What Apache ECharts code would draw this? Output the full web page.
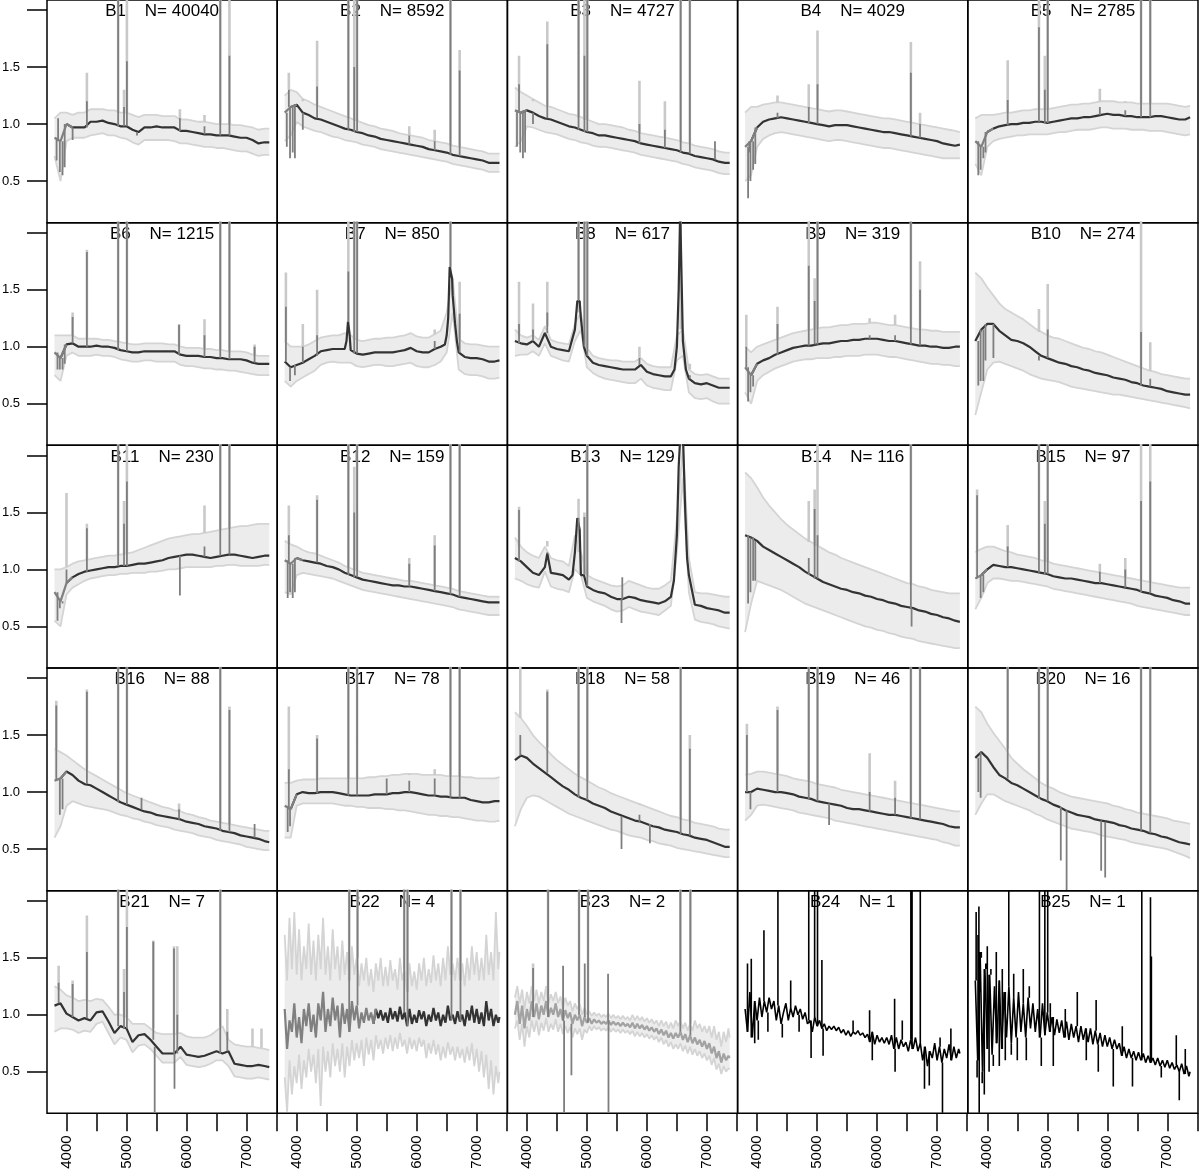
<!DOCTYPE html>
<html><head><meta charset="utf-8">
<script src="https://cdn.jsdelivr.net/npm/echarts@6/dist/echarts.min.js"></script>
<style>html,body{margin:0;padding:0;background:#fff}#c{width:1200px;height:1175px}</style>
</head><body><div id="c"></div>
<script>
// ---------- axes / labels ----------
const X_TICKS = [4000, 4500, 5000, 5500, 6000, 6500, 7000, 7500];
const X_LABELS = [4000, 5000, 6000, 7000];
const Y_TICKS = [0.5, 1.0, 1.5, 2.0];
const Y_LABELS = [0.5, 1.0, 1.5];
const NAMES = ['B1','B2','B3','B4','B5','B6','B7','B8','B9','B10','B11','B12','B13','B14','B15','B16','B17','B18','B19','B20','B21','B22','B23','B24','B25'];
const COUNTS = [40040, 8592, 4727, 4029, 2785, 1215, 850, 617, 319, 274, 230, 159, 129, 116, 97, 88, 78, 58, 46, 16, 7, 4, 2, 1, 1];

// wavelength grids
const WAVE = [3800,3900,4000,4100,4200,4300,4400,4500,4600,4700,
  4800,4900,5000,5100,5200,5300,5400,5500,5600,5700,
  5800,5900,6000,6100,6200,6300,6400,6500,6600,6700,
  6800,6900,7000,7100,7200,7300,7380];
const WAVE_F = [3800,3840,3880,3920,3960,4000,4040,4080,4120,4160,
  4200,4240,4280,4320,4360,4400,4440,4480,4520,4560,
  4600,4640,4680,4720,4760,4800,4840,4880,4920,4960,
  5000,5040,5080,5120,5160,5200,5240,5280,5320,5360,
  5400,5440,5480,5520,5560,5600,5640,5680,5720,5760,
  5800,5840,5880,5920,5960,6000,6040,6080,6120,6160,
  6200,6240,6280,6320,6360,6400,6440,6480,6520,6560,
  6600,6640,6680,6720,6760,6800,6840,6880,6920,6960,
  7000,7040,7080,7120,7160,7200,7240,7280,7320,7360,7380];

// ---------- B1 ----------
const B1_MEAN = [0.88,0.85,1.0,0.97,0.97,0.97,1.02,1.02,1.03,1.01, 1.0,0.98,0.98,0.95,0.93,0.97,0.97,0.98,0.97,0.97, 0.97,0.94,0.94,0.93,0.92,0.91,0.91,0.9,0.9,0.9, 0.89,0.88,0.88,0.86,0.83,0.84,0.84];
const B1_HI = [1.05,1.1,1.1,1.08,1.1,1.1,1.13,1.13,1.13,1.12, 1.12,1.1,1.1,1.08,1.06,1.08,1.08,1.08,1.07,1.07, 1.07,1.04,1.04,1.03,1.02,1.02,1.01,1.0,1.0,1.0, 0.99,0.99,0.98,0.97,0.95,0.96,0.96];
const B1_LO = [0.72,0.5,0.85,0.88,0.88,0.88,0.9,0.91,0.92,0.9, 0.9,0.88,0.87,0.84,0.82,0.86,0.86,0.86,0.86,0.86, 0.85,0.83,0.83,0.82,0.81,0.8,0.8,0.79,0.79,0.78, 0.77,0.76,0.76,0.74,0.72,0.73,0.73];
const B1_LINES = [[3835,0.68,null],[3860,1.05,null],[3889,0.58,null],[3934,0.55,null],[3970,0.62,null],[4102,0.86,null],[4340,1.2,1.45],[4861,2.2,2.2],[4959,1.15,1.3],[5007,1.55,2.2],[5175,0.9,null],[5890,1.05,1.13],[6300,0.98,1.08],[6563,2.2,2.2],[6716,1.6,2.2]];
// ---------- B2 ----------
const B2_MEAN = [1.1,1.15,1.17,1.1,1.08,1.05,1.04,1.02,1.0,0.98, 0.96,0.95,0.93,0.92,0.9,0.89,0.87,0.86,0.85,0.84, 0.83,0.82,0.81,0.8,0.78,0.77,0.76,0.75,0.73,0.72, 0.71,0.7,0.69,0.68,0.66,0.66,0.66];
const B2_HI = [1.25,1.3,1.28,1.22,1.2,1.17,1.15,1.13,1.11,1.09, 1.07,1.05,1.03,1.01,0.99,0.98,0.96,0.95,0.94,0.92, 0.91,0.9,0.89,0.88,0.86,0.85,0.84,0.83,0.81,0.8, 0.79,0.78,0.77,0.76,0.74,0.74,0.74];
const B2_LO = [0.85,0.9,1.02,0.98,0.96,0.94,0.93,0.91,0.89,0.88, 0.86,0.85,0.84,0.82,0.81,0.8,0.78,0.77,0.76,0.75, 0.74,0.73,0.72,0.71,0.7,0.69,0.68,0.67,0.65,0.64, 0.63,0.62,0.61,0.6,0.58,0.58,0.58];
const B2_LINES = [[3835,0.8,null],[3869,1.3,1.45],[3889,0.7,null],[3934,0.75,null],[3970,0.7,null],[4102,0.95,1.2],[4340,1.33,1.73],[4861,2.2,2.2],[4959,1.5,2.2],[5007,2.2,2.2],[5876,0.9,0.98],[6300,0.85,0.95],[6563,2.2,2.2],[6716,1.47,1.65]];
// ---------- B3 ----------
const B3_MEAN = [1.12,1.1,1.12,1.1,1.07,1.05,1.04,1.02,1.0,0.98, 0.97,0.95,0.93,0.92,0.9,0.9,0.89,0.88,0.87,0.86, 0.85,0.83,0.82,0.81,0.8,0.79,0.78,0.77,0.75,0.74, 0.72,0.71,0.7,0.69,0.67,0.66,0.66];
const B3_HI = [1.32,1.28,1.25,1.22,1.19,1.16,1.15,1.13,1.11,1.09, 1.08,1.06,1.04,1.02,1.0,1.0,0.99,0.98,0.97,0.95, 0.94,0.92,0.91,0.9,0.89,0.88,0.87,0.86,0.84,0.83, 0.81,0.8,0.79,0.78,0.76,0.75,0.75];
const B3_LO = [0.8,0.85,0.98,0.97,0.95,0.93,0.92,0.91,0.89,0.87, 0.86,0.84,0.83,0.81,0.8,0.8,0.79,0.78,0.77,0.76, 0.75,0.73,0.72,0.71,0.7,0.69,0.68,0.67,0.65,0.64, 0.62,0.61,0.6,0.59,0.57,0.56,0.56];
const B3_LINES = [[3835,0.8,null],[3869,1.35,1.6],[3889,0.75,null],[3934,0.7,null],[3970,0.75,null],[4102,1.0,1.2],[4340,1.7,1.9],[4861,2.2,2.2],[4959,1.6,2.2],[5007,2.2,2.2],[5876,1.0,1.38],[6300,0.95,1.2],[6563,2.2,2.2],[6716,2.2,2.2],[7135,0.85,null]];
// ---------- B4 ----------
const B4_MEAN = [0.8,0.85,0.97,1.02,1.04,1.05,1.06,1.05,1.04,1.03, 1.02,1.01,1.0,0.99,0.98,0.99,0.99,0.99,0.98,0.97, 0.96,0.95,0.94,0.93,0.93,0.92,0.91,0.9,0.89,0.88, 0.87,0.86,0.85,0.83,0.82,0.81,0.82];
const B4_HI = [1.1,1.15,1.15,1.17,1.18,1.19,1.19,1.18,1.17,1.16, 1.15,1.14,1.13,1.12,1.11,1.12,1.12,1.11,1.1,1.09, 1.08,1.07,1.06,1.05,1.05,1.04,1.03,1.02,1.01,1.0, 0.99,0.98,0.97,0.96,0.95,0.94,0.93];
const B4_LO = [0.5,0.55,0.8,0.87,0.9,0.92,0.93,0.92,0.91,0.9, 0.89,0.88,0.87,0.86,0.85,0.86,0.86,0.85,0.84,0.83, 0.82,0.81,0.8,0.79,0.79,0.78,0.77,0.76,0.75,0.74, 0.73,0.72,0.71,0.7,0.7,0.7,0.7];
const B4_LINES = [[3850,0.35,null],[3870,0.75,null],[3889,0.5,null],[3934,0.6,null],[3970,0.65,null],[4340,1.1,1.25],[4861,1.15,1.35],[5007,1.35,1.82],[6563,1.45,1.72],[6716,1.0,1.1]];
// ---------- B5 ----------
const B5_MEAN = [0.85,0.8,0.93,0.96,0.98,0.99,1.0,1.0,1.01,1.01, 1.02,1.02,1.01,1.02,1.03,1.04,1.05,1.05,1.06,1.06, 1.07,1.08,1.09,1.08,1.08,1.07,1.07,1.06,1.06,1.06, 1.07,1.07,1.06,1.05,1.04,1.04,1.06];
const B5_HI = [1.05,1.08,1.08,1.08,1.09,1.1,1.1,1.11,1.12,1.12, 1.13,1.13,1.13,1.14,1.15,1.16,1.17,1.17,1.18,1.18, 1.19,1.2,1.2,1.2,1.19,1.19,1.19,1.18,1.18,1.18, 1.18,1.18,1.18,1.17,1.16,1.15,1.16];
const B5_LO = [0.65,0.55,0.8,0.85,0.87,0.88,0.89,0.9,0.9,0.91, 0.91,0.91,0.91,0.92,0.93,0.93,0.94,0.95,0.95,0.95, 0.96,0.97,0.97,0.96,0.96,0.96,0.95,0.95,0.95,0.94, 0.94,0.94,0.93,0.92,0.91,0.9,0.91];
const B5_LINES = [[3850,0.55,null],[3889,0.6,null],[3934,0.7,null],[3970,0.75,null],[4340,1.21,1.56],[4861,1.85,2.2],[4959,1.3,1.6],[5007,2.2,2.2],[5876,1.15,1.31],[6300,1.12,1.2],[6563,2.2,2.2],[6716,2.2,2.2]];
// ---------- B6 ----------
const B6_MEAN = [0.95,0.9,1.02,1.03,1.0,1.0,1.0,1.01,1.0,1.0, 0.99,0.97,0.96,0.95,0.95,0.96,0.96,0.96,0.96,0.96, 0.96,0.93,0.92,0.92,0.92,0.91,0.91,0.9,0.9,0.89, 0.89,0.89,0.88,0.86,0.85,0.85,0.85];
const B6_HI = [1.1,1.1,1.1,1.1,1.07,1.07,1.07,1.07,1.06,1.06, 1.05,1.04,1.03,1.02,1.02,1.03,1.03,1.03,1.03,1.02, 1.02,1.0,0.99,0.99,0.99,0.98,0.98,0.97,0.97,0.96, 0.96,0.96,0.95,0.93,0.92,0.92,0.92];
const B6_LO = [0.75,0.7,0.92,0.95,0.92,0.92,0.92,0.93,0.92,0.92, 0.91,0.89,0.88,0.87,0.87,0.88,0.88,0.87,0.87,0.87, 0.87,0.84,0.83,0.83,0.82,0.81,0.81,0.8,0.8,0.79, 0.79,0.78,0.77,0.76,0.75,0.75,0.75];
const B6_LINES = [[3850,0.8,null],[3889,0.8,null],[3934,0.8,null],[3970,0.85,null],[4102,1.26,1.3],[4340,1.83,1.85],[4861,2.2,2.2],[5007,2.2,2.2],[5876,1.19,1.2],[6300,1.1,1.24],[6563,2.2,2.2],[6716,2.2,2.2],[7135,1.0,1.02]];
// ---------- B7 ----------
const B7_MEAN = [0.87,0.82,0.84,0.86,0.89,0.92,0.96,0.97,0.98,0.98, 0.98,0.97,0.94,0.93,0.94,0.95,0.95,0.95,0.95,0.96, 0.97,0.99,0.96,0.95,0.95,0.98,1.0,1.1,1.45,0.95, 0.91,0.9,0.9,0.89,0.87,0.87,0.88];
const B7_EXT = [[4830,1.05],[4855,1.22],[4880,1.12],[6470,1.02],[6525,1.25],[6550,1.7],[6590,1.6],[6640,1.2],[6670,1.05]];
const B7_HI = [1.05,1.0,1.0,1.0,1.02,1.05,1.08,1.09,1.1,1.1, 1.12,1.1,1.06,1.05,1.06,1.07,1.07,1.08,1.08,1.09, 1.1,1.12,1.09,1.08,1.08,1.11,1.14,1.3,1.6,1.07, 1.03,1.02,1.02,1.01,1.0,1.0,1.0];
const B7_LO = [0.7,0.65,0.7,0.73,0.76,0.79,0.84,0.86,0.87,0.86, 0.86,0.86,0.83,0.82,0.83,0.84,0.84,0.83,0.83,0.84, 0.85,0.86,0.83,0.82,0.82,0.84,0.87,0.95,1.3,0.8, 0.76,0.75,0.75,0.74,0.72,0.72,0.73];
const B7_LINES = [[3820,1.35,1.65],[3889,0.7,null],[3970,0.75,null],[4102,1.0,1.2],[4340,1.1,1.5],[4861,1.66,2.2],[4959,2.2,2.2],[5007,2.2,2.2],[6300,1.05,1.15],[6563,2.2,2.2],[6716,1.29,1.57]];
// ---------- B8 ----------
const B8_MEAN = [1.05,1.03,1.02,1.05,1.0,1.12,1.0,0.98,0.97,0.96, 1.15,1.25,0.92,0.86,0.84,0.83,0.82,0.81,0.8,0.8, 0.8,0.84,0.78,0.76,0.75,0.74,0.74,1.0,1.05,0.72, 0.68,0.67,0.68,0.66,0.64,0.64,0.64];
const B8_EXT = [[4840,1.4],[4880,1.4],[4950,1.0],[6460,0.8],[6530,1.5],[6555,2.2],[6575,2.2],[6620,0.95],[6650,0.8]];
const B8_HI = [1.15,1.1,1.08,1.1,1.06,1.18,1.06,1.04,1.03,1.02, 1.2,1.3,0.99,0.92,0.9,0.89,0.88,0.88,0.87,0.87, 0.87,0.9,0.85,0.83,0.82,0.82,0.82,1.1,1.15,0.8, 0.76,0.75,0.76,0.74,0.72,0.72,0.72];
const B8_LO = [0.92,0.93,0.93,0.96,0.92,1.03,0.92,0.9,0.88,0.87, 1.05,1.15,0.82,0.77,0.74,0.72,0.71,0.7,0.69,0.68, 0.68,0.72,0.66,0.64,0.63,0.62,0.62,0.88,0.92,0.6, 0.55,0.54,0.55,0.52,0.5,0.5,0.5];
const B8_LINES = [[3869,1.2,1.57],[4102,1.15,1.38],[4340,1.3,1.57],[4861,2.2,2.2],[4959,2.2,2.2],[5007,2.2,2.2],[5876,0.9,1.0],[6563,2.2,2.2],[6716,0.75,0.85]];
// ---------- B9 ----------
const B9_MEAN = [0.82,0.75,0.85,0.88,0.9,0.93,0.95,0.97,0.99,1.0, 1.01,1.01,1.02,1.03,1.03,1.04,1.05,1.05,1.06,1.06, 1.07,1.07,1.07,1.06,1.05,1.05,1.04,1.03,1.02,1.01, 1.01,1.0,1.0,0.99,0.99,1.0,1.0];
const B9_HI = [1.0,0.95,1.0,1.02,1.04,1.06,1.08,1.1,1.12,1.13, 1.14,1.15,1.16,1.17,1.17,1.18,1.19,1.19,1.2,1.2, 1.2,1.21,1.21,1.2,1.19,1.19,1.18,1.17,1.16,1.15, 1.15,1.14,1.14,1.13,1.13,1.13,1.13];
const B9_LO = [0.6,0.5,0.7,0.75,0.78,0.81,0.83,0.85,0.87,0.88, 0.89,0.89,0.9,0.9,0.9,0.91,0.91,0.92,0.92,0.92, 0.93,0.93,0.93,0.92,0.91,0.91,0.9,0.89,0.88,0.87, 0.86,0.85,0.85,0.84,0.84,0.83,0.83];
const B9_LINES = [[3820,1.0,1.28],[3850,0.52,null],[3889,0.6,null],[3934,0.65,null],[4340,1.2,1.35],[4861,1.71,2.2],[4959,1.4,1.6],[5007,2.2,2.2],[5876,1.1,1.25],[6300,1.1,1.28],[6563,2.2,2.2],[6716,1.5,1.75]];
// ---------- B10 ----------
const B10_MEAN = [1.05,1.15,1.2,1.2,1.14,1.1,1.06,1.05,1.03,1.0, 0.96,0.92,0.9,0.88,0.86,0.85,0.83,0.82,0.8,0.79, 0.77,0.76,0.75,0.73,0.72,0.71,0.69,0.68,0.66,0.65, 0.64,0.63,0.61,0.6,0.59,0.58,0.58];
const B10_HI = [1.65,1.6,1.52,1.45,1.38,1.33,1.3,1.27,1.24,1.2, 1.16,1.13,1.1,1.08,1.07,1.05,1.03,1.01,0.99,0.98, 0.96,0.95,0.93,0.91,0.89,0.87,0.85,0.83,0.81,0.79, 0.78,0.76,0.75,0.74,0.73,0.72,0.72];
const B10_LO = [0.4,0.6,0.8,0.86,0.87,0.85,0.83,0.81,0.79,0.76, 0.74,0.72,0.71,0.7,0.69,0.67,0.65,0.64,0.63,0.62, 0.61,0.6,0.59,0.58,0.58,0.57,0.56,0.55,0.54,0.53, 0.52,0.51,0.5,0.49,0.48,0.47,0.46];
const B10_LINES = [[3850,0.66,null],[3889,0.7,null],[3934,0.7,null],[3970,0.88,null],[4102,0.9,null],[4861,0.88,1.33],[5007,1.15,1.55],[6563,1.13,2.2],[6716,0.72,1.04]];
// ---------- B11 ----------
const B11_MEAN = [0.8,0.72,0.88,0.93,0.96,0.98,0.99,1.0,1.01,1.02, 1.02,1.03,1.03,1.04,1.05,1.05,1.06,1.07,1.08,1.1, 1.11,1.12,1.13,1.13,1.12,1.11,1.1,1.11,1.12,1.13, 1.13,1.12,1.11,1.1,1.11,1.12,1.12];
const B11_HI = [1.0,1.0,1.02,1.05,1.07,1.08,1.09,1.1,1.11,1.12, 1.12,1.13,1.14,1.15,1.17,1.19,1.21,1.23,1.25,1.27, 1.28,1.29,1.3,1.31,1.31,1.32,1.33,1.34,1.35,1.36, 1.37,1.38,1.38,1.39,1.4,1.4,1.4];
const B11_LO = [0.55,0.5,0.78,0.84,0.87,0.9,0.92,0.93,0.94,0.95, 0.95,0.96,0.96,0.97,0.97,0.97,0.98,0.98,0.99,1.0, 1.0,1.01,1.02,1.02,1.02,1.02,1.02,1.03,1.03,1.04, 1.04,1.03,1.03,1.03,1.03,1.04,1.04];
const B11_LINES = [[3850,0.55,null],[3889,0.66,null],[3934,0.7,null],[4000,1.0,1.67],[4340,1.36,1.4],[4861,2.2,2.2],[4959,1.4,1.6],[5007,1.77,2.2],[5890,0.77,null],[6300,1.2,1.56],[6563,2.2,2.2],[6716,2.2,2.2]];
// ---------- B12 ----------
const B12_MEAN = [1.08,1.05,1.1,1.08,1.07,1.06,1.05,1.03,1.02,1.0, 0.97,0.95,0.93,0.91,0.9,0.89,0.88,0.87,0.86,0.86, 0.85,0.85,0.84,0.83,0.82,0.81,0.8,0.79,0.78,0.76, 0.75,0.74,0.73,0.72,0.71,0.71,0.71];
const B12_HI = [1.25,1.22,1.2,1.17,1.15,1.14,1.12,1.1,1.08,1.06, 1.03,1.01,0.99,0.97,0.96,0.95,0.94,0.93,0.92,0.91, 0.9,0.9,0.89,0.88,0.87,0.86,0.85,0.84,0.83,0.81, 0.8,0.79,0.78,0.77,0.76,0.76,0.76];
const B12_LO = [0.8,0.78,0.95,0.97,0.96,0.95,0.94,0.93,0.92,0.9, 0.88,0.86,0.84,0.82,0.81,0.8,0.79,0.78,0.77,0.76, 0.75,0.74,0.73,0.72,0.71,0.7,0.69,0.68,0.67,0.65, 0.64,0.63,0.62,0.61,0.6,0.6,0.6];
const B12_LINES = [[3850,0.75,null],[3869,1.3,1.56],[3889,0.8,null],[3934,0.75,null],[3970,0.8,null],[4340,1.61,1.65],[4861,2.2,2.2],[4959,1.5,1.9],[5007,2.2,2.2],[5876,1.05,1.1],[6300,1.21,1.3],[6563,2.2,2.2],[6716,2.2,2.2]];
// ---------- B13 ----------
const B13_MEAN = [1.1,1.07,1.02,0.97,0.95,1.02,0.97,0.96,0.95,0.91, 1.15,0.95,0.85,0.82,0.8,0.79,0.76,0.74,0.74,0.76, 0.75,0.73,0.72,0.71,0.7,0.72,0.76,1.3,2.2,0.95, 0.69,0.68,0.66,0.65,0.64,0.62,0.62];
const B13_EXT = [[4340,1.14],[4760,0.95],[4840,1.45],[4880,1.35],[4950,0.95],[6450,0.9],[6530,1.9],[6560,2.2],[6640,1.5],[6670,1.1]];
const B13_HI = [1.28,1.2,1.15,1.12,1.1,1.2,1.1,1.08,1.07,1.03, 1.3,1.15,0.95,0.92,0.9,0.88,0.86,0.85,0.86,0.9, 0.88,0.86,0.84,0.83,0.83,0.86,0.9,1.45,2.08,1.1, 0.8,0.79,0.79,0.78,0.77,0.76,0.76];
const B13_LO = [0.92,0.9,0.87,0.85,0.84,0.98,0.85,0.83,0.82,0.8, 1.0,0.95,0.75,0.72,0.7,0.68,0.65,0.63,0.64,0.67, 0.65,0.63,0.62,0.61,0.6,0.64,0.68,1.15,1.8,0.8, 0.56,0.54,0.53,0.52,0.5,0.49,0.48];
const B13_LINES = [[3869,1.52,1.55],[4340,1.15,1.25],[4861,1.45,1.62],[4959,1.46,1.5],[5007,2.2,2.2],[5577,0.53,null],[5590,0.93,null],[6563,2.2,2.2]];
// ---------- B14 ----------
const B14_MEAN = [1.3,1.28,1.25,1.2,1.17,1.14,1.11,1.08,1.05,1.02, 0.98,0.95,0.92,0.89,0.87,0.85,0.83,0.82,0.8,0.79, 0.77,0.76,0.74,0.73,0.71,0.7,0.68,0.67,0.66,0.64, 0.63,0.61,0.6,0.58,0.57,0.55,0.54];
const B14_HI = [1.85,1.8,1.72,1.63,1.56,1.5,1.44,1.39,1.35,1.31, 1.27,1.24,1.21,1.18,1.15,1.13,1.1,1.08,1.06,1.04, 1.02,1.0,0.98,0.96,0.94,0.92,0.9,0.88,0.87,0.85, 0.84,0.82,0.81,0.8,0.79,0.79,0.79];
const B14_LO = [0.45,0.7,0.9,0.88,0.86,0.84,0.82,0.79,0.76,0.73, 0.7,0.68,0.66,0.64,0.62,0.6,0.58,0.56,0.54,0.52, 0.5,0.49,0.47,0.46,0.44,0.43,0.41,0.4,0.39,0.37, 0.36,0.35,0.34,0.33,0.32,0.31,0.31];
const B14_LINES = [[3850,0.7,null],[3889,0.8,null],[3934,0.9,null],[3970,0.9,null],[4861,1.1,1.6],[4959,1.53,1.7],[5007,1.3,2.2],[6563,2.2,2.2],[6575,0.5,null]];
// ---------- B15 ----------
const B15_MEAN = [0.92,0.95,1.0,1.04,1.03,1.02,1.02,1.01,1.0,0.99, 0.98,0.97,0.96,0.94,0.93,0.92,0.92,0.91,0.9,0.89, 0.88,0.88,0.87,0.86,0.85,0.84,0.83,0.82,0.8,0.79, 0.77,0.76,0.75,0.73,0.72,0.7,0.7];
const B15_HI = [1.15,1.18,1.2,1.2,1.18,1.16,1.15,1.13,1.12,1.11, 1.1,1.08,1.07,1.05,1.04,1.03,1.02,1.01,1.0,0.99, 0.98,0.97,0.96,0.95,0.94,0.93,0.92,0.91,0.9,0.89, 0.88,0.87,0.86,0.85,0.84,0.84,0.84];
const B15_LO = [0.65,0.75,0.88,0.92,0.92,0.91,0.9,0.9,0.89,0.88, 0.87,0.86,0.85,0.83,0.82,0.81,0.8,0.79,0.78,0.77, 0.76,0.75,0.74,0.73,0.72,0.71,0.7,0.68,0.67,0.66, 0.65,0.64,0.63,0.62,0.61,0.6,0.6];
const B15_LINES = [[3830,1.65,1.7],[3889,0.75,null],[3934,0.8,null],[4340,1.2,1.39],[4861,2.2,2.2],[4959,1.4,1.6],[5007,2.2,2.2],[5876,0.98,1.05],[6300,1.0,1.1],[6563,1.6,2.2],[6716,1.77,2.2]];
// ---------- B16 ----------
const B16_MEAN = [1.1,1.12,1.18,1.15,1.1,1.07,1.06,1.03,1.0,0.97, 0.94,0.91,0.89,0.87,0.85,0.83,0.82,0.8,0.79,0.78, 0.77,0.76,0.74,0.73,0.72,0.7,0.69,0.68,0.66,0.65, 0.64,0.62,0.61,0.6,0.59,0.57,0.56];
const B16_HI = [1.38,1.35,1.32,1.28,1.24,1.2,1.17,1.14,1.11,1.08, 1.05,1.02,0.99,0.97,0.95,0.93,0.91,0.89,0.87,0.86, 0.84,0.83,0.81,0.8,0.78,0.77,0.75,0.74,0.73,0.72, 0.71,0.7,0.69,0.68,0.67,0.66,0.66];
const B16_LO = [0.6,0.7,0.88,0.92,0.9,0.88,0.87,0.86,0.85,0.84, 0.82,0.8,0.79,0.77,0.76,0.74,0.73,0.71,0.7,0.69, 0.67,0.66,0.65,0.64,0.62,0.61,0.6,0.58,0.57,0.56, 0.55,0.54,0.52,0.51,0.5,0.49,0.49];
const B16_LINES = [[3830,1.76,1.8],[3889,0.8,null],[3934,0.85,null],[4340,1.88,1.9],[4861,2.2,2.2],[5007,2.2,2.2],[5250,0.95,null],[5876,0.85,0.9],[6563,2.2,2.2],[6716,1.72,1.75],[7135,0.72,null]];
// ---------- B17 ----------
const B17_MEAN = [0.88,0.85,0.98,1.0,0.99,0.99,1.0,1.0,1.0,0.99, 0.98,0.97,0.97,0.97,0.97,0.98,0.98,0.98,0.99,0.99, 1.0,1.0,0.99,0.98,0.97,0.97,0.96,0.96,0.95,0.95, 0.95,0.93,0.92,0.91,0.91,0.92,0.92];
const B17_HI = [1.08,1.08,1.1,1.11,1.11,1.11,1.12,1.12,1.12,1.12, 1.12,1.12,1.12,1.12,1.13,1.13,1.14,1.14,1.15,1.15, 1.16,1.16,1.16,1.15,1.15,1.15,1.15,1.14,1.14,1.14, 1.13,1.13,1.12,1.12,1.12,1.12,1.13];
const B17_LO = [0.6,0.6,0.88,0.9,0.9,0.9,0.9,0.9,0.9,0.89, 0.88,0.88,0.87,0.87,0.86,0.86,0.86,0.85,0.85,0.84, 0.84,0.83,0.82,0.81,0.8,0.8,0.79,0.79,0.78,0.78, 0.77,0.76,0.75,0.75,0.74,0.74,0.75];
const B17_LINES = [[3850,0.65,null],[3869,1.2,1.75],[3889,0.7,null],[4340,1.47,1.5],[4861,2.2,2.2],[5007,2.2,2.2],[5500,1.12,null],[5876,1.1,1.15],[6300,1.12,1.2],[6563,2.2,2.2],[6716,2.2,2.2]];
// ---------- B18 ----------
const B18_MEAN = [1.28,1.32,1.3,1.25,1.21,1.17,1.13,1.09,1.05,1.02, 0.98,0.95,0.93,0.9,0.88,0.86,0.83,0.81,0.79,0.77, 0.75,0.74,0.72,0.7,0.69,0.67,0.66,0.65,0.63,0.62, 0.6,0.59,0.58,0.56,0.54,0.52,0.52];
const B18_HI = [1.7,1.65,1.58,1.5,1.44,1.39,1.33,1.28,1.24,1.2, 1.16,1.13,1.1,1.07,1.04,1.02,0.99,0.97,0.95,0.93, 0.91,0.89,0.87,0.85,0.83,0.81,0.79,0.78,0.76,0.75, 0.73,0.72,0.71,0.7,0.68,0.67,0.67];
const B18_LO = [0.7,0.85,0.95,0.97,0.96,0.93,0.9,0.87,0.84,0.81, 0.79,0.77,0.75,0.73,0.71,0.69,0.67,0.66,0.64,0.62, 0.61,0.6,0.58,0.57,0.55,0.54,0.53,0.51,0.5,0.49, 0.48,0.47,0.46,0.45,0.44,0.43,0.43];
const B18_LINES = [[3890,1.5,2.2],[4340,1.88,1.9],[4861,2.2,2.2],[5007,2.2,2.2],[5577,0.5,null],[5876,0.8,0.9],[6050,0.55,null],[6563,2.2,2.2],[6716,1.38,1.5]];
// ---------- B19 ----------
const B19_MEAN = [1.0,1.0,1.03,1.02,1.01,1.0,1.0,0.99,0.98,0.96, 0.95,0.94,0.92,0.91,0.9,0.89,0.88,0.86,0.85,0.85, 0.84,0.83,0.82,0.81,0.8,0.8,0.79,0.78,0.77,0.76, 0.75,0.74,0.73,0.72,0.7,0.69,0.69];
const B19_HI = [1.15,1.16,1.18,1.18,1.17,1.16,1.15,1.14,1.12,1.11, 1.1,1.09,1.07,1.06,1.05,1.04,1.02,1.01,1.0,0.99, 0.98,0.97,0.96,0.95,0.94,0.93,0.92,0.91,0.9,0.89, 0.88,0.87,0.86,0.85,0.84,0.83,0.83];
const B19_LO = [0.75,0.8,0.88,0.89,0.88,0.87,0.86,0.85,0.84,0.82, 0.81,0.8,0.79,0.78,0.77,0.75,0.74,0.73,0.72,0.71, 0.7,0.69,0.68,0.67,0.66,0.65,0.64,0.63,0.62,0.61, 0.6,0.59,0.58,0.56,0.55,0.53,0.53];
const B19_LINES = [[3830,1.5,1.6],[3889,0.85,null],[4340,1.72,1.75],[4861,2.2,2.2],[5007,2.2,2.2],[5200,0.71,null],[5876,1.0,1.34],[6300,0.95,1.1],[6563,2.2,2.2],[6716,2.2,2.2]];
// ---------- B20 ----------
const B20_MEAN = [1.3,1.35,1.3,1.22,1.15,1.12,1.08,1.06,1.03,1.0, 0.97,0.94,0.92,0.89,0.87,0.84,0.82,0.8,0.79,0.78, 0.76,0.75,0.74,0.73,0.71,0.7,0.68,0.67,0.66,0.64, 0.63,0.61,0.6,0.58,0.56,0.55,0.54];
const B20_HI = [1.75,1.7,1.6,1.52,1.45,1.38,1.3,1.25,1.2,1.16, 1.12,1.08,1.05,1.03,1.0,0.98,0.96,0.95,0.94,0.93, 0.92,0.91,0.9,0.88,0.87,0.85,0.84,0.82,0.81,0.8, 0.79,0.78,0.77,0.75,0.74,0.73,0.72];
const B20_LO = [0.8,0.9,0.98,0.98,0.95,0.92,0.9,0.88,0.86,0.84, 0.81,0.79,0.76,0.74,0.72,0.7,0.68,0.67,0.66,0.65, 0.64,0.62,0.61,0.6,0.59,0.58,0.56,0.55,0.54,0.53, 0.52,0.51,0.5,0.48,0.46,0.44,0.42];
const B20_LINES = [[3850,1.0,null],[3889,0.95,null],[4340,2.2,2.2],[4861,2.2,2.2],[5007,2.2,2.2],[5225,0.4,null],[5322,0.14,null],[5898,0.31,null],[5965,0.25,null],[6563,2.2,2.2],[6716,2.2,2.2]];
// ---------- B21 ----------
const B21_MEAN = [1.08,1.1,1.01,0.98,0.95,0.97,0.95,1.02,1.03,0.94, 0.84,0.9,0.88,0.76,0.82,0.83,0.78,0.72,0.66,0.66, 0.66,0.72,0.65,0.64,0.63,0.64,0.66,0.68,0.66,0.68, 0.57,0.56,0.55,0.55,0.56,0.55,0.54];
const B21_HI = [1.25,1.22,1.17,1.15,1.12,1.13,1.12,1.14,1.13,1.07, 1.0,1.0,0.98,0.92,0.92,0.92,0.88,0.84,0.83,0.83, 0.83,0.84,0.81,0.8,0.8,0.8,0.82,0.86,0.9,0.78, 0.74,0.73,0.72,0.72,0.71,0.7,0.69];
const B21_LO = [0.85,0.88,0.88,0.87,0.84,0.86,0.85,0.92,0.94,0.84, 0.74,0.8,0.78,0.67,0.73,0.74,0.7,0.64,0.58,0.58, 0.58,0.63,0.56,0.55,0.54,0.55,0.57,0.6,0.6,0.55, 0.46,0.45,0.44,0.44,0.45,0.44,0.43];
const B21_LINES = [[3869,1.28,1.43],[4102,1.27,1.3],[4340,1.55,1.87],[4861,2.2,2.2],[4959,1.2,1.4],[5007,1.77,2.2],[5447,1.64,1.65],[5470,0.14,null],[5792,1.58,1.6],[5800,0.35,null],[5847,1.0,1.6],[6563,2.2,2.2],[6680,0.85,1.05],[7100,null,0.88],[7250,null,0.88]];
// ---------- B22 (40 A grid) ----------
const B22_MEAN = [1.05,0.7,0.95,0.85,1.1,0.8,0.98,0.75,1.05,0.9, 1.1,0.85,1.0,0.8,1.1,0.95,1.2,0.85,1.05,0.9, 1.15,0.95,1.08,0.8,1.1,0.92,1.05,0.85,1.12,0.95, 1.08,0.88,1.02,0.93,1.06,0.95,1.02,0.92,1.05,0.97, 1.04,0.95,1.02,0.93,1.06,0.96,1.03,0.94,1.07,0.96, 1.02,0.9,1.05,0.92,1.0,0.93,1.04,0.96,1.03,0.9, 1.0,0.94,1.06,0.95,1.02,0.9,1.0,0.93,1.08,0.95, 1.0,0.92,1.03,0.94,1.0,0.9,1.04,0.95,1.08,0.93, 1.05,0.92,1.02,0.9,1.12,0.95,1.05,0.9,1.0,0.93, 0.98];
const B22_HI = [1.7,1.3,1.85,1.4,1.9,1.35,1.75,1.3,1.6,1.4, 1.8,1.35,1.65,1.3,1.7,1.4,1.85,1.35,1.6,1.3, 1.75,1.4,1.6,1.3,1.65,1.35,1.55,1.3,1.6,1.35, 1.5,1.25,1.45,1.3,1.5,1.25,1.4,1.2,1.45,1.3, 1.5,1.25,1.42,1.25,1.48,1.3,1.4,1.22,1.5,1.3, 1.4,1.2,1.45,1.25,1.38,1.22,1.45,1.3,1.5,1.25, 1.4,1.28,1.52,1.3,1.45,1.25,1.5,1.3,1.6,1.35, 1.45,1.3,1.5,1.3,1.45,1.25,1.5,1.3,1.6,1.35, 1.55,1.3,1.5,1.3,1.7,1.35,1.55,1.3,1.9,1.4, 1.55];
const B22_LO = [0.45,0.15,0.6,0.3,0.55,0.4,0.65,0.35,0.6,0.45, 0.7,0.5,0.65,0.4,0.7,0.2,0.72,0.5,0.68,0.45, 0.75,0.55,0.7,0.5,0.75,0.45,0.72,0.55,0.78,0.6, 0.75,0.62,0.78,0.55,0.8,0.65,0.78,0.6,0.82,0.7, 0.78,0.66,0.8,0.7,0.82,0.68,0.8,0.7,0.84,0.72, 0.78,0.66,0.8,0.7,0.78,0.68,0.8,0.72,0.78,0.62, 0.75,0.66,0.78,0.65,0.74,0.6,0.72,0.62,0.76,0.65, 0.72,0.6,0.72,0.62,0.7,0.58,0.72,0.6,0.75,0.55, 0.7,0.5,0.68,0.45,0.65,0.35,0.6,0.3,0.55,0.4, 0.5];
const B22_LINES = [[4875,2.2,2.2],[5014,2.2,2.2],[5792,2.2,2.2],[5847,2.2,2.2],[6580,2.2,2.2],[6730,2.2,2.2]];
// ---------- B23 (40 A grid) ----------
const B23_MEAN = [1.0,1.12,0.92,1.08,0.88,1.05,0.95,1.12,0.98,1.1, 0.96,1.08,1.0,1.12,0.98,1.06,1.0,1.1,0.98,1.05, 0.95,1.04,0.97,1.02,0.92,1.0,0.95,1.0,0.9,0.98, 0.93,0.97,0.92,0.96,0.93,0.95,0.92,0.94,0.92,0.95, 0.91,0.94,0.91,0.93,0.9,0.93,0.9,0.92,0.89,0.93, 0.88,0.92,0.88,0.91,0.87,0.9,0.86,0.89,0.85,0.88, 0.83,0.87,0.82,0.86,0.8,0.84,0.79,0.84,0.8,0.85, 0.78,0.83,0.76,0.82,0.75,0.8,0.74,0.78,0.72,0.77, 0.7,0.75,0.66,0.72,0.62,0.68,0.58,0.66,0.6,0.64, 0.62];
const B23_HI = [1.15,1.25,1.1,1.22,1.05,1.2,1.1,1.25,1.12,1.22, 1.1,1.2,1.12,1.25,1.1,1.18,1.12,1.2,1.1,1.16, 1.06,1.15,1.08,1.12,1.03,1.1,1.05,1.1,1.0,1.06, 1.0,1.03,0.99,1.02,0.99,1.01,0.98,1.0,0.98,1.01, 0.97,1.0,0.97,0.99,0.96,0.99,0.96,0.98,0.95,1.0, 0.95,0.99,0.95,0.98,0.94,0.97,0.93,0.96,0.92,0.95, 0.9,0.95,0.9,0.94,0.88,0.93,0.88,0.95,0.9,0.95, 0.88,0.93,0.86,0.92,0.86,0.95,0.88,0.92,0.85,0.9, 0.84,0.9,0.8,0.9,0.78,0.85,0.72,0.85,0.76,0.88, 0.8];
const B23_LO = [0.88,0.95,0.78,0.92,0.72,0.9,0.8,0.95,0.85,0.95, 0.82,0.93,0.86,0.97,0.85,0.92,0.87,0.96,0.85,0.92, 0.83,0.9,0.84,0.89,0.8,0.88,0.83,0.88,0.78,0.87, 0.84,0.9,0.86,0.9,0.87,0.89,0.86,0.88,0.86,0.89, 0.85,0.88,0.85,0.87,0.84,0.87,0.84,0.86,0.83,0.86, 0.81,0.85,0.81,0.84,0.8,0.83,0.79,0.82,0.78,0.81, 0.76,0.8,0.74,0.78,0.72,0.76,0.7,0.74,0.7,0.75, 0.68,0.73,0.66,0.72,0.65,0.7,0.64,0.68,0.62,0.66, 0.6,0.64,0.56,0.62,0.52,0.57,0.48,0.55,0.5,0.53, 0.52];
const B23_LINES = [[4103,1.41,1.45],[4353,2.2,2.2],[4603,1.43,null],[4620,0.14,null],[4742,0.47,null],[4869,2.2,2.2],[4964,1.45,null],[5019,2.2,2.2],[5353,1.36,null],[5360,0.14,null],[6558,2.2,2.2],[6725,2.2,2.2]];
// ---------- B24 (single spectrum) ----------
const B24_MEAN = [1.05,0.85,1.2,0.8,1.12,0.95,1.15,0.98,1.12,1.02, 1.15,1.05,1.12,0.95,1.08,0.92,1.02,1.1,0.95,1.06, 0.98,1.08,1.0,1.05,0.96,1.02,0.92,0.95,0.85,0.98, 0.9,0.95,0.88,0.92,0.86,0.9,0.87,0.9,0.86,0.89, 0.84,0.87,0.82,0.86,0.81,0.85,0.83,0.86,0.82,0.84, 0.8,0.83,0.76,0.85,0.74,0.82,0.76,0.8,0.75,0.8, 0.74,0.82,0.7,0.8,0.7,0.78,0.72,0.76,0.68,0.78, 0.7,0.8,0.68,0.75,0.6,0.72,0.55,0.68,0.62,0.75, 0.6,0.72,0.58,0.7,0.62,0.74,0.6,0.72,0.62,0.7, 0.66];
const B24_LINES = [[3840,1.45],[3903,1.49],[3960,0.75],[4020,0.78],[4114,1.74],[4180,0.85],[4347,2.2],[4420,0.8],[4560,1.3],[4700,0.85],[4861,2.2],[4900,0.62],[4959,2.2],[5007,2.2],[5080,1.48],[5100,0.64],[5600,0.95],[5875,1.04],[5920,0.6],[6292,1.14],[6300,0.5],[6420,0.95],[6563,2.2],[6583,2.2],[6720,2.2],[6790,0.35],[6870,0.38],[7050,0.8],[7090,0.14],[7230,0.88]];
// ---------- B25 (single spectrum) ----------
const B25_MEAN = [1.3,0.6,1.55,0.5,1.4,0.7,1.35,0.65,1.25,0.75, 1.3,0.7,1.2,0.8,1.25,0.75,1.15,0.8,1.2,0.85, 1.1,0.8,1.15,0.88,1.1,0.85,1.05,0.8,1.1,0.82, 1.02,0.85,0.98,0.82,0.96,0.84,0.95,0.8,0.94,0.78, 0.92,0.8,0.9,0.76,0.9,0.78,0.88,0.76,0.88,0.74, 0.86,0.74,0.84,0.72,0.82,0.72,0.8,0.7,0.78,0.7, 0.75,0.64,0.72,0.62,0.7,0.62,0.68,0.6,0.67,0.6, 0.66,0.58,0.64,0.58,0.62,0.56,0.62,0.55,0.6,0.54, 0.6,0.53,0.58,0.52,0.56,0.5,0.57,0.48,0.55,0.46, 0.5];
const B25_LINES = [[3814,1.9],[3822,0.6],[3830,0.45],[3845,1.7],[3860,1.95],[3865,0.14],[3880,1.2],[3900,1.5],[3915,0.4],[3950,0.3],[3975,1.45],[4000,1.6],[4030,0.5],[4060,1.4],[4100,0.55],[4150,1.55],[4200,0.55],[4250,1.4],[4300,0.6],[4358,2.2],[4400,0.65],[4440,1.36],[4500,0.6],[4600,1.4],[4650,0.6],[4700,1.25],[4869,2.2],[4900,0.55],[4959,2.2],[5007,2.2],[5050,1.1],[5100,0.55],[5300,1.05],[5500,1.2],[5650,0.6],[5814,1.13],[5850,0.5],[6100,0.37],[6250,0.9],[6420,0.37],[6575,2.2],[6720,2.03],[6735,1.51],[6900,0.45],[7150,0.82],[7200,0.25],[7300,0.7]];

// blue-end segments drawn in mid grey (wavelength up to which the mean is grey); 0 = none
const GRAY_TO = [4000,3990,3990,3980,4000, 3980,0,0,3990,0, 4000,4000,0,0,3990, 3950,3950,0,0,0, 0,5300,0,0,0];
// tone of the mean line: d = dark grey, g = light grey, k = black
const TONE = ['d','d','d','d','d','d','d','d','d','d','d','d','d','d','d','d','d','d','d','d','d','d','g','k','k'];

const PANELS = [
  {w:WAVE, m:B1_MEAN, h:B1_HI, l:B1_LO, s:B1_LINES},
  {w:WAVE, m:B2_MEAN, h:B2_HI, l:B2_LO, s:B2_LINES},
  {w:WAVE, m:B3_MEAN, h:B3_HI, l:B3_LO, s:B3_LINES},
  {w:WAVE, m:B4_MEAN, h:B4_HI, l:B4_LO, s:B4_LINES},
  {w:WAVE, m:B5_MEAN, h:B5_HI, l:B5_LO, s:B5_LINES},
  {w:WAVE, m:B6_MEAN, h:B6_HI, l:B6_LO, s:B6_LINES},
  {w:WAVE, m:B7_MEAN, h:B7_HI, l:B7_LO, s:B7_LINES, e:B7_EXT},
  {w:WAVE, m:B8_MEAN, h:B8_HI, l:B8_LO, s:B8_LINES, e:B8_EXT},
  {w:WAVE, m:B9_MEAN, h:B9_HI, l:B9_LO, s:B9_LINES},
  {w:WAVE, m:B10_MEAN, h:B10_HI, l:B10_LO, s:B10_LINES},
  {w:WAVE, m:B11_MEAN, h:B11_HI, l:B11_LO, s:B11_LINES},
  {w:WAVE, m:B12_MEAN, h:B12_HI, l:B12_LO, s:B12_LINES},
  {w:WAVE, m:B13_MEAN, h:B13_HI, l:B13_LO, s:B13_LINES, e:B13_EXT},
  {w:WAVE, m:B14_MEAN, h:B14_HI, l:B14_LO, s:B14_LINES},
  {w:WAVE, m:B15_MEAN, h:B15_HI, l:B15_LO, s:B15_LINES},
  {w:WAVE, m:B16_MEAN, h:B16_HI, l:B16_LO, s:B16_LINES},
  {w:WAVE, m:B17_MEAN, h:B17_HI, l:B17_LO, s:B17_LINES},
  {w:WAVE, m:B18_MEAN, h:B18_HI, l:B18_LO, s:B18_LINES},
  {w:WAVE, m:B19_MEAN, h:B19_HI, l:B19_LO, s:B19_LINES},
  {w:WAVE, m:B20_MEAN, h:B20_HI, l:B20_LO, s:B20_LINES},
  {w:WAVE, m:B21_MEAN, h:B21_HI, l:B21_LO, s:B21_LINES},
  {w:WAVE_F, m:B22_MEAN, h:B22_HI, l:B22_LO, s:B22_LINES},
  {w:WAVE_F, m:B23_MEAN, h:B23_HI, l:B23_LO, s:B23_LINES},
  {w:WAVE_F, m:B24_MEAN, s:B24_LINES},
  {w:WAVE_F, m:B25_MEAN, s:B25_LINES}
];

// ---------- layout ----------
const FONT = "'Liberation Sans', Arial, Helvetica, sans-serif";
const LEFT0 = 47, PW = 230.2, PH = 222.67;

function pairs(w, v) { return w.map((x, k) => [x, v[k]]); }
function merged(w, v, ext) {
  const pts = pairs(w, v);
  if (ext) ext.forEach(p => pts.push([p[0], p[1]]));
  pts.sort((a, b) => a[0] - b[0]);
  return pts;
}
function nearest(pts, x) {
  let best = pts[0];
  for (const p of pts) if (Math.abs(p[0] - x) < Math.abs(best[0] - x)) best = p;
  return best[1];
}
function lineS(i, data, color, width) {
  return {type:'line', xAxisIndex:i, yAxisIndex:i, data:data, symbol:'none', showSymbol:false,
    silent:true, animation:false, connectNulls:false, clip:true,
    lineStyle:{color:color, width:width}, itemStyle:{color:color}, emphasis:{disabled:true}};
}
function bandItem(w, hi, lo) {
  return function (params, api) {
    const pts = [];
    for (let k = 0; k < w.length; k++) pts.push(api.coord([w[k], hi[k]]));
    for (let k = w.length - 1; k >= 0; k--) pts.push(api.coord([w[k], lo[k]]));
    return {type:'polygon', shape:{points:pts}, style:{fill:'#ececec'}, silent:true};
  };
}

const grid = [], xAxis = [], yAxis = [], series = [], graphic = [];
PANELS.forEach((p, i) => {
  const c = i % 5, r = Math.floor(i / 5);
  const left = LEFT0 + c * PW, top = r * PH;
  grid.push({left:left, top:top, width:PW, height:PH, show:true, borderColor:'#000', borderWidth:1.5,
    backgroundColor:'transparent', containLabel:false, outerBoundsMode:'none'});
  xAxis.push({type:'value', gridIndex:i, min:3675, max:7512,
    axisLine:{show:false, onZero:false}, splitLine:{show:false},
    axisTick:{show:r === 4, length:18, lineStyle:{color:'#000', width:1.5}, customValues:X_TICKS},
    axisLabel:{show:r === 4, customValues:X_LABELS, rotate:90, margin:22, fontSize:15, color:'#000', fontFamily:FONT,
      formatter:function (v) { return String(Math.round(v)); }}});
  yAxis.push({type:'value', gridIndex:i, min:0.135, max:2.088,
    axisLine:{show:false, onZero:false}, splitLine:{show:false},
    axisTick:{show:c === 0, length:20, lineStyle:{color:'#000', width:1.5}, customValues:Y_TICKS},
    axisLabel:{show:c === 0, customValues:Y_LABELS, margin:27, fontSize:13, color:'#000', fontFamily:FONT,
      formatter:function (v) { return Number(v).toFixed(1); }}});

  graphic.push({type:'text', z:0, zlevel:0, silent:true, x:left + PW / 2, y:top + 3,
    style:{text:NAMES[i] + '    N= ' + COUNTS[i], fill:'#000', fontSize:17, fontFamily:FONT,
      align:'center', verticalAlign:'top', textAlign:'center', textVerticalAlign:'top'}});

  const tone = TONE[i];
  const meanColor = tone === 'k' ? '#000000' : (tone === 'g' ? '#a2a2a2' : '#333333');
  const spikeColor = tone === 'k' ? '#000000' : '#7e7e7e';
  const meanPts = merged(p.w, p.m, p.e);

  if (p.h) {
    series.push({type:'custom', xAxisIndex:i, yAxisIndex:i, clip:true, silent:true, animation:false,
      data:[[5000, 1]], encode:{x:0, y:1}, renderItem:bandItem(p.w, p.h, p.l)});
    const hiPts = pairs(p.w, p.h);
    series.push(lineS(i, hiPts, '#d4d4d4', 1.8));
    series.push(lineS(i, pairs(p.w, p.l), '#d4d4d4', 1.8));
    const hs = [];
    p.s.forEach(function (q) {
      if (q[2] != null) { hs.push([q[0], nearest(hiPts, q[0])], [q[0], q[2]], [q[0], '-']); }
    });
    series.push(lineS(i, hs, '#c9c9c9', 2.6));
  }

  const g = GRAY_TO[i];
  if (g > 0) {
    const grayPart = [], darkPart = [];
    let firstAfter = null, lastBefore = null;
    meanPts.forEach(function (q) { if (q[0] <= g) { grayPart.push(q); lastBefore = q; } else { if (!firstAfter) firstAfter = q; darkPart.push(q); } });
    if (firstAfter) grayPart.push(firstAfter);
    if (lastBefore) darkPart.unshift(lastBefore);
    series.push(lineS(i, darkPart, meanColor, 2.2));
    series.push(lineS(i, grayPart, '#808080', 2.2));
  } else {
    series.push(lineS(i, meanPts, meanColor, tone === 'k' ? 1.6 : 2.2));
  }

  const ms = [];
  p.s.forEach(function (q) {
    if (q[1] != null) { ms.push([q[0], nearest(meanPts, q[0])], [q[0], q[1]], [q[0], '-']); }
  });
  series.push(lineS(i, ms, spikeColor, tone === 'k' ? 1.6 : 1.8));
});

const chart = echarts.init(document.getElementById('c'), null, {renderer:'canvas'});
chart.setOption({animation:false, backgroundColor:'#ffffff', grid:grid, xAxis:xAxis, yAxis:yAxis, series:series, graphic:graphic});
</script></body></html>
